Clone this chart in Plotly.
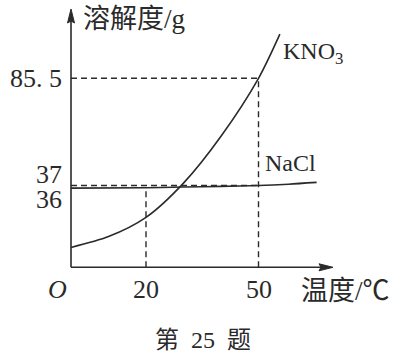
import plotly.graph_objects as go

# ---- data ----
kno3_t = [0, 10, 20, 30, 40, 50, 55.7]
kno3_s = [9.0, 13.9, 22.6, 38.1, 59.3, 85.5, 105.5]
nacl_t = [0, 20, 30, 40, 50, 58, 65.5]
nacl_s = [35.8, 36.0, 36.3, 36.6, 37.0, 37.6, 38.4]
x_ticks = [20, 50]
x_tick_text = ["20", "50"]
y_marks = [85.5, 37, 36]
y_mark_text = ["85. 5", "37", "36"]

W, H = 403, 354
X0PX, XS = 71.0, 3.75      # pixel of t=0, px per unit
Y0PX, YS = 267.3, 2.2105   # pixel of s=0, px per unit
xr = [-X0PX / XS, (W - X0PX) / XS]
yr = [(Y0PX - H) / YS, Y0PX / YS]

def dx(px):
    return (px - X0PX) / XS

def dy(py):
    return (Y0PX - py) / YS

ink = "#2a2a2a"
serif = "Liberation Serif, Times New Roman, serif"
mixed = "Liberation Serif, Noto Sans CJK SC, serif"

fig = go.Figure()
fig.add_trace(go.Scatter(x=kno3_t, y=kno3_s, mode="lines",
                         line=dict(color=ink, width=1.6, shape="spline", smoothing=0.8),
                         hoverinfo="skip", showlegend=False))
fig.add_trace(go.Scatter(x=nacl_t, y=nacl_s, mode="lines",
                         line=dict(color=ink, width=1.6, shape="spline", smoothing=0.8),
                         hoverinfo="skip", showlegend=False))

shapes = []
dash = dict(color=ink, width=1.4, dash="6px,4px")
# dashed guides
shapes.append(dict(type="line", x0=0, x1=x_ticks[1], y0=y_marks[0], y1=y_marks[0], line=dash))
shapes.append(dict(type="line", x0=x_ticks[1], x1=x_ticks[1], y0=0, y1=y_marks[0], line=dash))
shapes.append(dict(type="line", x0=0, x1=x_ticks[1], y0=y_marks[1], y1=y_marks[1], line=dash))
shapes.append(dict(type="line", x0=x_ticks[0], x1=x_ticks[0], y0=0, y1=y_marks[2], line=dash))

# axes
axl = dict(color=ink, width=1.6)
shapes.append(dict(type="line", x0=0, x1=dx(322), y0=0, y1=0, line=axl))
shapes.append(dict(type="line", x0=0, x1=0, y0=0, y1=dy(20), line=axl))
# arrowheads
shapes.append(dict(type="path",
                   path=f"M {dx(333)} {dy(Y0PX)} L {dx(319)} {dy(Y0PX-3.5)} L {dx(321)} {dy(Y0PX)} L {dx(319)} {dy(Y0PX+3.5)} Z",
                   fillcolor=ink, line=dict(color=ink, width=1)))
shapes.append(dict(type="path",
                   path=f"M {dx(X0PX)} {dy(9)} L {dx(X0PX-3.5)} {dy(23)} L {dx(X0PX)} {dy(21)} L {dx(X0PX+3.5)} {dy(23)} Z",
                   fillcolor=ink, line=dict(color=ink, width=1)))

ann = []
def px_ann(text, px, py, xanchor="center", size=22, family=serif):
    ann.append(dict(text=text, x=px / W, y=1 - py / H, xref="paper", yref="paper",
                    xanchor=xanchor, yanchor="middle", showarrow=False, borderpad=0,
                    font=dict(family=family, size=size, color=ink)))

# y labels via data
yshifts = [0, 11, -12]
for v, t, s in zip(y_marks, y_mark_text, yshifts):
    ann.append(dict(text=t, x=dx(63), y=v, xref="x", yref="y", xanchor="right", yanchor="middle",
                    yshift=s, showarrow=False, borderpad=0,
                    font=dict(family=serif, size=26, color=ink)))
for v, t in zip(x_ticks, x_tick_text):
    ann.append(dict(text=t, x=v, y=dy(289), xref="x", yref="y", xanchor="center", yanchor="middle",
                    showarrow=False, borderpad=0, font=dict(family=serif, size=26, color=ink)))
px_ann("<i>O</i>", 57, 289, size=26)
px_ann("溶解度/g", 82, 19, xanchor="left", size=27, family=mixed)
px_ann("温度/℃", 300, 291, xanchor="left", size=27, family=mixed)
px_ann("KNO<sub>3</sub>", 282, 53, xanchor="left", size=24)
px_ann("NaCl", 264, 163, xanchor="left", size=24)
px_ann("第\u00a0\u00a025\u00a0\u00a0题", 203, 340, size=24, family=mixed)

fig.update_layout(width=W, height=H, margin=dict(l=0, r=0, t=0, b=0),
                  paper_bgcolor="white", plot_bgcolor="white",
                  xaxis=dict(range=xr, visible=False, fixedrange=True),
                  yaxis=dict(range=yr, visible=False, fixedrange=True),
                  shapes=shapes, annotations=ann)
fig.write_html("out.html")
